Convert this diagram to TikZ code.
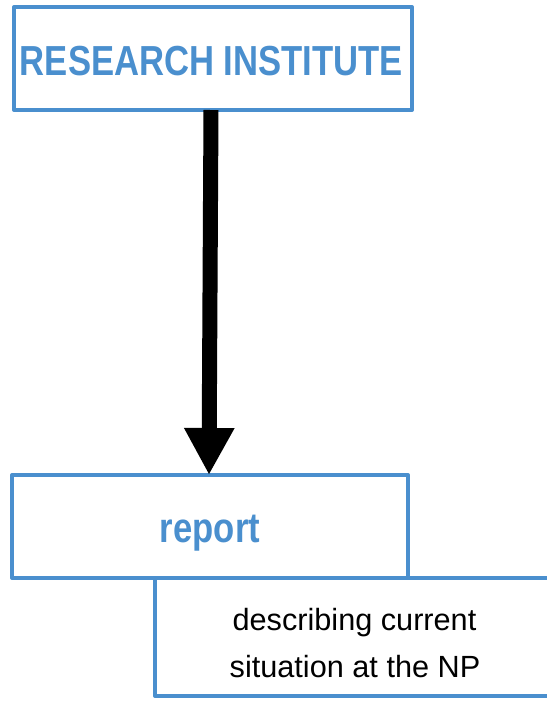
\documentclass[tikz,border=0pt]{standalone}
\usepackage{fontspec}
\setmainfont{Liberation Sans}
\newfontfamily\narrowf[FakeStretch=0.825]{Liberation Sans}
\usetikzlibrary{arrows.meta}
\definecolor{boxblue}{RGB}{74,143,206}
\tikzset{
  bluebox/.style={draw=boxblue, line width=3pt, rectangle, outer sep=0pt, inner sep=0pt, line join=round},
  bluetext/.style={font=\narrowf\fontsize{31.5pt}{36pt}\selectfont\bfseries, text=boxblue, inner sep=0pt, anchor=base},
  desctextstyle/.style={font=\fontsize{23pt}{35.25pt}\selectfont, inner sep=0pt, anchor=base},
  bigarrow/.style={line width=11.25pt, -{Triangle[width=35.25pt,length=35.25pt]}}
}
\begin{document}
\begin{tikzpicture}[x=0.75pt,y=-0.75pt]
\useasboundingbox (0,0) rectangle (547,701);
\clip (0,0) rectangle (547,701);
% lower box first so report box border lies on top
\node[bluebox, minimum width=297pt, minimum height=88.5pt] (desc) at (353,637) {};
\node[desctextstyle] (descA) at (354.5,630) {describing current};
\node[desctextstyle] (descB) at (355,677) {situation at the NP};
\node[bluebox, fill=white, minimum width=297pt, minimum height=77.25pt] (rep) at (210,526.5) {};
\node[bluetext] (reptext) at (210,542) {report};
\node[bluebox, minimum width=298.5pt, minimum height=77.25pt] (ri) at (213,58.5) {};
\node[bluetext] (ritext) at (211.5,75) {RESEARCH INSTITUTE};
\draw[bigarrow] ([xshift=-1.5pt]ri.south) -- ([xshift=-0.75pt]rep.north);
\end{tikzpicture}
\end{document}
